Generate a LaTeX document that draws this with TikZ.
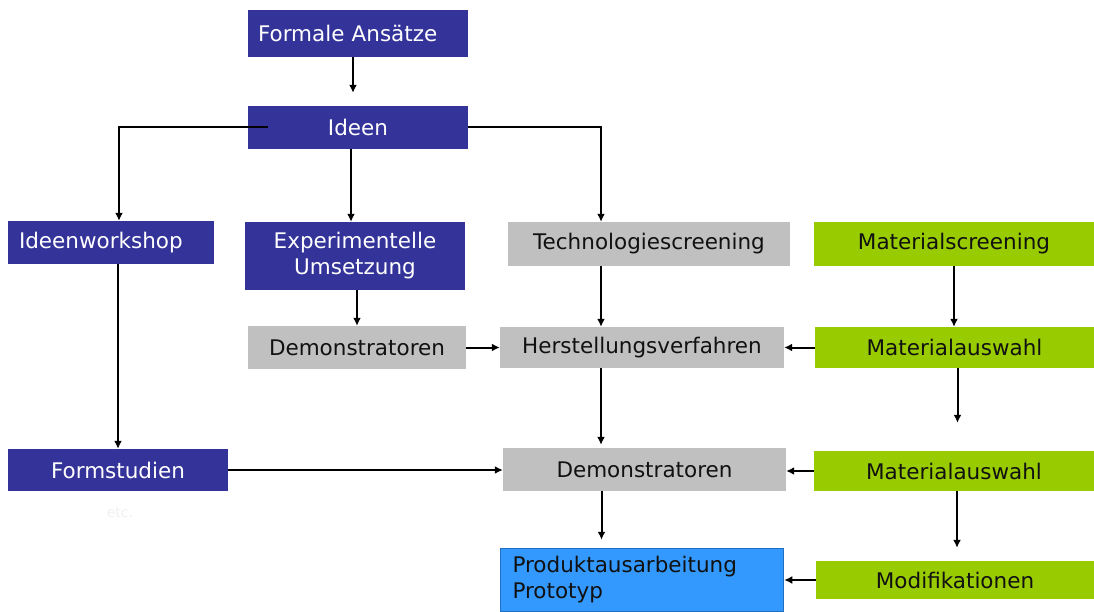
\documentclass[tikz,border=0pt]{standalone}
\usepackage{fontspec}
\setmainfont{DejaVu Sans}
\usetikzlibrary{arrows.meta,calc}
\definecolor{dblue}{HTML}{333399}
\definecolor{lgray}{HTML}{C0C0C0}
\definecolor{lgreen}{HTML}{99CC00}
\definecolor{pblue}{HTML}{3399FF}
\definecolor{pborder}{HTML}{1F6FC0}
\definecolor{txt}{HTML}{111111}
\begin{document}
\begin{tikzpicture}[x=1pt,y=-1pt,
  every node/.style={font=\fontsize{21.5}{26}\selectfont, inner sep=0pt, align=center},
  bluebox/.style={fill=dblue, text=white},
  graybox/.style={fill=lgray, text=txt},
  greenbox/.style={fill=lgreen, text=txt},
  prodbox/.style={fill=pblue, draw=pborder, line width=1.5pt, text=txt},
  arr/.style={line width=2pt, -{Latex[length=8pt,width=8pt]}}]
\useasboundingbox (0,0) rectangle (1094,612);
% nodes
\node[bluebox, minimum width=220, minimum height=47, text width=200, align=left] (fa) at (358,33.5) {Formale Ansätze};
\node[bluebox, minimum width=220, minimum height=43] (ideen) at (358,127.5) {Ideen};
\node[bluebox, minimum width=206, minimum height=43, text width=184, align=left] (iw) at (111,242.5) {Ideenworkshop};
\node[bluebox, minimum width=220, minimum height=68] (exp) at (355,256) {Experimentelle\\Umsetzung};
\node[graybox, minimum width=282, minimum height=44] (tech) at (649,244) {Technologiescreening};
\node[greenbox, minimum width=280, minimum height=44] (mats) at (954,244) {Materialscreening};
\node[graybox, minimum width=218, minimum height=43] (demo1) at (357,347.5) {Demonstratoren};
\node[graybox, minimum width=284, minimum height=41] (herst) at (642,347.5) {Herstellungsverfahren};
\node[greenbox, minimum width=279, minimum height=41] (mata1) at (954.5,347.5) {Materialauswahl};
\node[bluebox, minimum width=220, minimum height=42] (fs) at (118,470) {Formstudien};
\node[graybox, minimum width=283, minimum height=43] (demo2) at (644.5,469.5) {Demonstratoren};
\node[greenbox, minimum width=280, minimum height=40] (mata2) at (954,471) {Materialauswahl};
\node[prodbox, minimum width=283, minimum height=63, text width=259, align=left] (prod) at (642,580) {Produktausarbeitung\\Prototyp};
\node[greenbox, minimum width=278, minimum height=38] (modif) at (955,580) {Modifikationen};
\node[text=black!6, font=\fontsize{14}{16}\selectfont] (etc) at (120,513) {etc.};
% connectors
\draw[arr, shorten >=13pt] ([xshift=-5pt]fa.south) -- ([xshift=-5pt]ideen.north);
\draw[arr] ([xshift=20pt]ideen.west) -| ([xshift=8pt]iw.north);
\draw[arr] ([xshift=-4pt]exp.north |- ideen.south) -- ([xshift=-4pt]exp.north);
\draw[arr] (ideen.east) -| ([xshift=-48pt]tech.north);
\draw[arr] (fs.north |- iw.south) -- (fs.north);
\draw[arr] (demo1.north |- exp.south) -- (demo1.north);
\draw[arr] (demo1.east) -- (herst.west);
\draw[arr] ([xshift=-48pt]tech.south) -- ([xshift=-48pt]tech.south |- herst.north);
\draw[arr] (mats.south) -- (mats.south |- mata1.north);
\draw[arr] (mata1.west) -- (herst.east);
\draw[arr, shorten >=3pt] ([xshift=-41pt]herst.south) -- ([xshift=-41pt]herst.south |- demo2.north);
\draw[arr, shorten >=28pt] ([xshift=3pt]mata1.south) -- ([xshift=3pt]mata1.south |- mata2.north);
\draw[arr] (fs.east) -- (fs.east -| demo2.west);
\draw[arr] (mata2.west) -- (mata2.west -| demo2.east);
\draw[arr, shorten >=8pt] ([xshift=-43pt]demo2.south) -- ([xshift=-43pt]demo2.south |- prod.north);
\draw[arr, shorten >=13pt] ([xshift=3pt]mata2.south) -- ([xshift=3pt]mata2.south |- modif.north);
\draw[arr] (modif.west) -- (modif.west -| prod.east);
\end{tikzpicture}
\end{document}
